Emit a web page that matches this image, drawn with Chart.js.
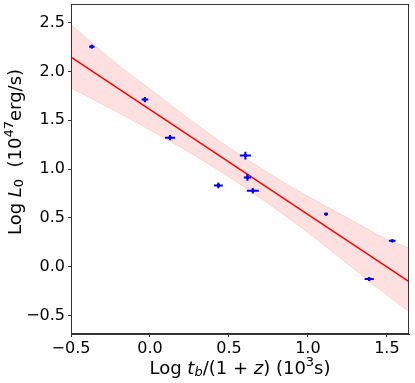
<!DOCTYPE html>
<html>
<head>
<meta charset="utf-8">
<script src="https://cdn.jsdelivr.net/npm/chart.js@4.4.0/dist/chart.umd.min.js"></script>
<style>
  html, body { margin: 0; padding: 0; background: #fff; }
  #wrap { width: 415px; height: 383px; }
</style>
</head>
<body>
<div id="wrap"><canvas id="lumChart" width="415" height="383"></canvas></div>
<script>
// measured points
const xVals = [-0.368, -0.032, 0.127, 0.433, 0.604, 0.617, 0.651, 1.115, 1.388, 1.534];
const yVals = [2.253, 1.711, 1.321, 0.832, 1.137, 0.914, 0.777, 0.538, -0.126, 0.264];
const xErr = [0.017, 0.021, 0.032, 0.028, 0.035, 0.023, 0.038, 0.012, 0.029, 0.021];
const yErr = [0.020, 0.027, 0.027, 0.030, 0.040, 0.034, 0.029, 0.012, 0.020, 0.012];

// best-fit line
const fitX = [-0.5, 1.64];
const fitY = [2.146, -0.154];

// confidence band
const bandX = [-0.5, -0.25, 0.0, 0.25, 0.5, 0.75, 1.0, 1.25, 1.5, 1.64];
const bandUpper = [2.48, 2.13, 1.82, 1.51, 1.22, 0.96, 0.72, 0.50, 0.28, 0.19];
const bandLower = [1.83, 1.62, 1.40, 1.17, 0.92, 0.645, 0.35, 0.03, -0.29, -0.46];

const xTicks = [-0.5, 0.0, 0.5, 1.0, 1.5];
const yTicks = [-0.5, 0.0, 0.5, 1.0, 1.5, 2.0, 2.5];

const FONT = 'DejaVu Sans';
const fmt = v => v.toFixed(1).replace('-', '\u2212');

const toPts = (xs, ys) => xs.map((x, i) => ({ x: x, y: ys[i] }));

// error bars on top of the points
const errorBars = {
  id: 'errorBars',
  afterDatasetsDraw(chart) {
    const { ctx, scales: { x, y } } = chart;
    ctx.save();
    ctx.strokeStyle = '#0000ff';
    ctx.lineWidth = 2;
    xVals.forEach((xv, i) => {
      const px = x.getPixelForValue(xv), py = y.getPixelForValue(yVals[i]);
      ctx.beginPath();
      ctx.moveTo(x.getPixelForValue(xv - xErr[i]), py);
      ctx.lineTo(x.getPixelForValue(xv + xErr[i]), py);
      ctx.moveTo(px, y.getPixelForValue(yVals[i] - yErr[i]));
      ctx.lineTo(px, y.getPixelForValue(yVals[i] + yErr[i]));
      ctx.stroke();
    });
    ctx.restore();
  }
};

// frame and math-style axis titles
function drawRich(ctx, segs, size) {
  const parts = segs.map(s => {
    const small = s.sub || s.sup;
    const f = (s.it ? 'italic ' : '') + (small ? Math.round(size * 0.7) : size) + 'px ' + FONT;
    ctx.font = f;
    return { t: s.t, f: f, w: ctx.measureText(s.t).width, dy: s.sub ? size * 0.22 : (s.sup ? -size * 0.38 : 0) };
  });
  const total = parts.reduce((a, p) => a + p.w, 0);
  let cx = -total / 2;
  parts.forEach(p => {
    ctx.font = p.f;
    ctx.fillText(p.t, cx, p.dy);
    cx += p.w;
  });
}

const decorations = {
  id: 'decorations',
  afterDraw(chart) {
    const { ctx, chartArea: a } = chart;
    ctx.save();
    ctx.strokeStyle = '#333';
    ctx.lineWidth = 1;
    ctx.strokeRect(a.left + 0.5, a.top + 0.5, a.right - a.left - 1, a.bottom - a.top - 1);

    ctx.fillStyle = '#000';
    ctx.textBaseline = 'middle';
    ctx.textAlign = 'left';
    ctx.translate((a.left + a.right) / 2, 369);
    drawRich(ctx, [
      { t: 'Log ' }, { t: 't', it: true }, { t: 'b', it: true, sub: true },
      { t: '/(1 + ' }, { t: 'z', it: true }, { t: ') (10' }, { t: '3', sup: true }, { t: 's)' }
    ], 18);
    ctx.restore();

    ctx.save();
    ctx.fillStyle = '#000';
    ctx.textBaseline = 'middle';
    ctx.textAlign = 'left';
    ctx.translate(16, 152);
    ctx.rotate(-Math.PI / 2);
    drawRich(ctx, [
      { t: 'Log ' }, { t: 'L', it: true }, { t: '0', sub: true },
      { t: '  (10' }, { t: '47', sup: true }, { t: 'erg/s)' }
    ], 18);
    ctx.restore();
  }
};

const axisCommon = {
  type: 'linear',
  grid: { display: true, drawOnChartArea: false, drawTicks: true, tickLength: 3, color: '#333' },
  border: { display: true, color: '#333', width: 1 },
  ticks: { color: '#000', font: { family: FONT, size: 16 }, callback: v => fmt(v) }
};

new Chart(document.getElementById('lumChart').getContext('2d'), {
  type: 'scatter',
  data: {
    datasets: [
      {
        type: 'line', data: toPts(bandX, bandUpper), fill: false,
        borderColor: 'rgba(255,0,0,0.12)', borderWidth: 1, pointRadius: 0,
        cubicInterpolationMode: 'monotone', order: 5
      },
      {
        type: 'line', data: toPts(bandX, bandLower), fill: '-1',
        backgroundColor: 'rgba(255,0,0,0.12)',
        borderColor: 'rgba(255,0,0,0.12)', borderWidth: 1, pointRadius: 0,
        cubicInterpolationMode: 'monotone', order: 4
      },
      {
        type: 'line', data: toPts(fitX, fitY), fill: false,
        borderColor: '#ff0000', borderWidth: 1.5, pointRadius: 0, order: 2
      },
      {
        type: 'scatter', data: toPts(xVals, yVals),
        backgroundColor: '#0000ff', borderColor: '#0000ff',
        pointRadius: 1.8, borderWidth: 0, order: 1
      }
    ]
  },
  options: {
    responsive: false,
    animation: false,
    layout: { padding: { left: 0, top: 4, right: 6, bottom: 0 } },
    plugins: { legend: { display: false }, tooltip: { enabled: false } },
    scales: {
      x: Object.assign({}, axisCommon, {
        min: -0.5, max: 1.64,
        ticks: Object.assign({}, axisCommon.ticks, { padding: 2, maxRotation: 0 }),
        afterBuildTicks: s => { s.ticks = xTicks.map(v => ({ value: v })); },
        afterFit: s => { s.height = 49; s.paddingLeft = 0; s.paddingRight = 0; }
      }),
      y: Object.assign({}, axisCommon, {
        min: -0.69, max: 2.69,
        ticks: Object.assign({}, axisCommon.ticks, { padding: 3 }),
        afterBuildTicks: s => { s.ticks = yTicks.map(v => ({ value: v })); },
        afterFit: s => { s.width = 71; s.paddingTop = 0; s.paddingBottom = 0; }
      })
    }
  },
  plugins: [errorBars, decorations]
});
</script>
</body>
</html>
